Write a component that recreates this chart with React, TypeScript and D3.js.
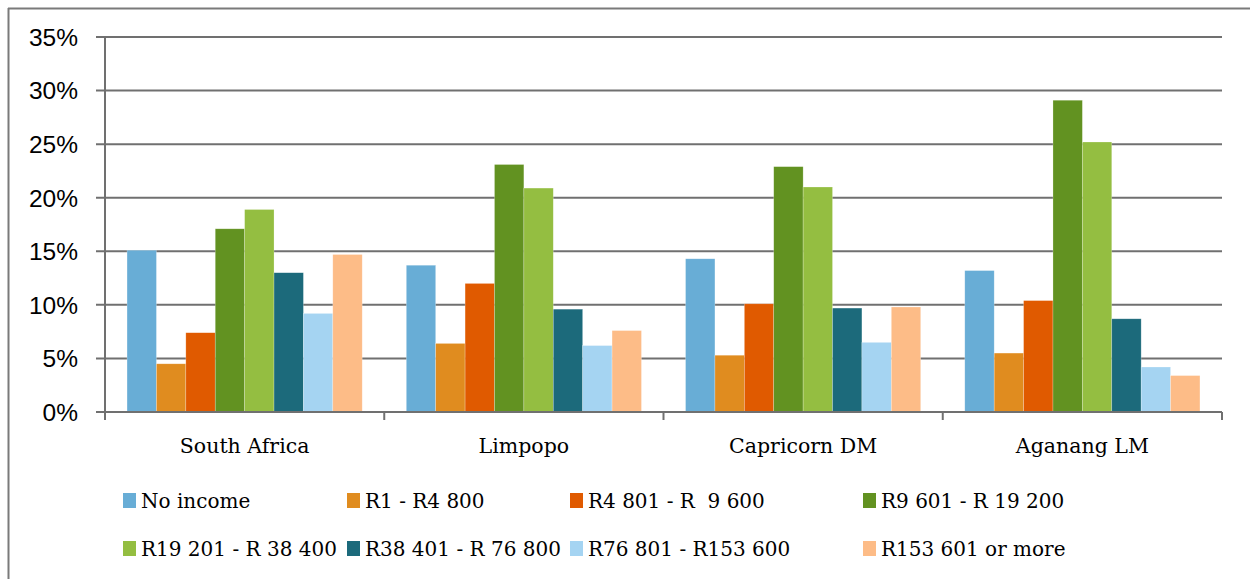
import React from "react";
import * as d3 from "d3";

const categories = ["South Africa", "Limpopo", "Capricorn DM", "Aganang LM"];
const seriesNames = [
  "No income",
  "R1 - R4 800",
  "R4 801 - R  9 600",
  "R9 601 - R 19 200",
  "R19 201 - R 38 400",
  "R38 401 - R 76 800",
  "R76 801 - R153 600",
  "R153 601 or more",
];
const colors = ["#68add6", "#e08c1f", "#e05a00", "#629221", "#94be41", "#1c6a7b", "#a5d4f2", "#fdbc87"];
// values in % per series, ordered by categories
const noIncome = [15.1, 13.7, 14.3, 13.2];
const r1to4800 = [4.5, 6.4, 5.3, 5.5];
const r4801to9600 = [7.4, 12.0, 10.1, 10.4];
const r9601to19200 = [17.1, 23.1, 22.9, 29.1];
const r19201to38400 = [18.9, 20.9, 21.0, 25.2];
const r38401to76800 = [13.0, 9.6, 9.7, 8.7];
const r76801to153600 = [9.2, 6.2, 6.5, 4.2];
const r153601plus = [14.7, 7.6, 9.8, 3.4];
const seriesValues = [noIncome, r1to4800, r4801to9600, r9601to19200, r19201to38400, r38401to76800, r76801to153600, r153601plus];
const yTicks = [0, 5, 10, 15, 20, 25, 30, 35];

const W = 1250, H = 579;
const plotL = 105, plotR = 1222, plotT = 37, plotB = 412;
const serif = "'DejaVu Serif', serif";
const sans = "'Liberation Sans', Arial, sans-serif";
const gridColor = "#707070";

export default function App() {
  const x0 = d3.scaleBand<string>().domain(categories).range([plotL, plotR]).paddingInner(0).paddingOuter(0);
  const x1 = d3.scaleBand<number>().domain(d3.range(seriesNames.length)).range([0, x0.bandwidth()]).paddingInner(0).paddingOuter(0.75);
  const y = d3.scaleLinear().domain([0, 35]).range([plotB, plotT]);

  const legendCols = [123, 347, 570, 863];
  const legendRows = [501, 549];

  return (
    <svg width={W} height={H} style={{ position: "absolute", left: 0, top: 0, background: "#fff" }}>
      {/* outer frame */}
      <line x1={8} x2={W} y1={8.5} y2={8.5} stroke="#7a7a7a" strokeWidth={2} />
      <line x1={8.5} x2={8.5} y1={8} y2={H} stroke="#7a7a7a" strokeWidth={2} />

      {/* gridlines */}
      {yTicks.map((t) => (
        <line key={"g" + t} x1={96} x2={plotR} y1={y(t)} y2={y(t)} stroke={gridColor} strokeWidth={2} />
      ))}
      {yTicks.map((t) => (
        <text key={"t" + t} x={78} y={y(t)} dy="0.36em" textAnchor="end" fontFamily={sans} fontSize={24.5} fill="#000">
          {t}%
        </text>
      ))}

      {/* bars */}
      {categories.map((c, ci) => (
        <g key={c} transform={`translate(${x0(c)},0)`}>
          {seriesValues.map((vals, si) => (
            <rect
              key={si}
              x={x1(si)}
              y={y(vals[ci])}
              width={x1.bandwidth()}
              height={plotB - y(vals[ci])}
              fill={colors[si]}
              stroke="#ffffff"
              strokeOpacity={0.4}
              strokeWidth={0.6}
            />
          ))}
        </g>
      ))}

      {/* axes */}
      <line x1={plotL} x2={plotL} y1={plotT} y2={plotB} stroke={gridColor} strokeWidth={2} />
      <line x1={96} x2={plotR} y1={plotB} y2={plotB} stroke={gridColor} strokeWidth={2} />
      {[...categories.map((c) => x0(c) as number), plotR].map((xv, i) => (
        <line key={"ct" + i} x1={xv} x2={xv} y1={plotB} y2={420} stroke={gridColor} strokeWidth={2} />
      ))}
      {categories.map((c) => (
        <text key={"cl" + c} x={(x0(c) as number) + x0.bandwidth() / 2} y={453} textAnchor="middle" fontFamily={serif} fontSize={20.5} fill="#000">
          {c}
        </text>
      ))}

      {/* legend */}
      {seriesNames.map((s, i) => {
        const lx = legendCols[i % 4];
        const ly = legendRows[Math.floor(i / 4)];
        return (
          <g key={"l" + i}>
            <rect x={lx} y={ly - 8} width={13} height={15} fill={colors[i]} />
            <text x={lx + 18} y={ly} dy="0.35em" fontFamily={serif} fontSize={20} fill="#000" style={{ whiteSpace: "pre" }}>
              {s}
            </text>
          </g>
        );
      })}
    </svg>
  );
}
